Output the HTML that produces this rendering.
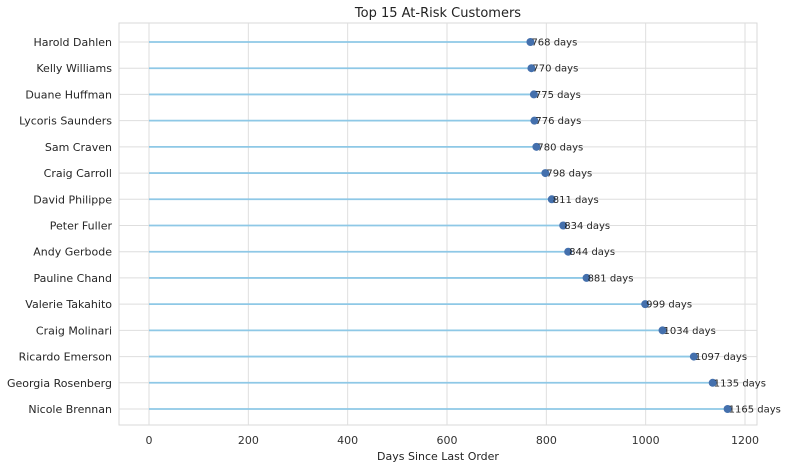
<!DOCTYPE html>
<html><head><meta charset="utf-8"><style>
body{margin:0;background:#fff;font-family:"DejaVu Sans","Liberation Sans",sans-serif}
</style></head><body>
<svg id="c" width="800" height="471" xmlns="http://www.w3.org/2000/svg" font-family="DejaVu Sans, Liberation Sans, sans-serif"></svg>
<script>
const names=["Harold Dahlen","Kelly Williams","Duane Huffman","Lycoris Saunders","Sam Craven","Craig Carroll","David Philippe","Peter Fuller","Andy Gerbode","Pauline Chand","Valerie Takahito","Craig Molinari","Ricardo Emerson","Georgia Rosenberg","Nicole Brennan"];
const days=[768,770,775,776,780,798,811,834,844,881,999,1034,1097,1135,1165];
const ticks=[0,200,400,600,800,1000,1200];
const svg=document.getElementById('c');const NS='http://www.w3.org/2000/svg';
const L=119,R=757,T=23,B=425;
const x=v=>149+v*(745-149)/1200;
const y=i=>42+i*(409-42)/14;
function mk(t,a,p){const e=document.createElementNS(NS,t);for(const k in a)e.setAttribute(k,a[k]);(p||svg).appendChild(e);return e;}
const bg=mk('rect',{x:L,y:T,width:R-L,height:B-T,fill:'#fff',stroke:'#d9d9d9'});


ticks.forEach(t=>{
 const g=mk('line',{x1:x(t),x2:x(t),y1:T,y2:B,stroke:'#dedede'});
 
 
 const tl=mk('text',{x:x(t),y:444,'text-anchor':'middle','font-size':11,fill:'#333'});tl.textContent=t;
 
 
});
names.forEach((n,i)=>{
 const g=mk('line',{x1:L,x2:R,y1:y(i),y2:y(i),stroke:'#dedede'});
 
 
 const s=mk('line',{x1:x(0),x2:x(days[i]),y1:y(i),y2:y(i),stroke:'#8ec8e6','stroke-width':1.8});
 
 
 const c=mk('circle',{cx:x(days[i]),cy:y(i),r:4,fill:'#4470ad'});
 
 
 const lb=mk('text',{x:x(days[i])+1,y:y(i)+3.5,'font-size':10,fill:'#262626'});lb.textContent=days[i]+' days';
 
 
 const yl=mk('text',{x:112,y:y(i)+4,'text-anchor':'end','font-size':11,fill:'#262626'});yl.textContent=n;
 
 
});
const ti=mk('text',{x:438,y:17,'text-anchor':'middle','font-size':13,fill:'#222'});ti.textContent='Top 15 At-Risk Customers';


const xt=mk('text',{x:438,y:460,'text-anchor':'middle','font-size':11,fill:'#222'});xt.textContent='Days Since Last Order';


</script>
</body></html>
